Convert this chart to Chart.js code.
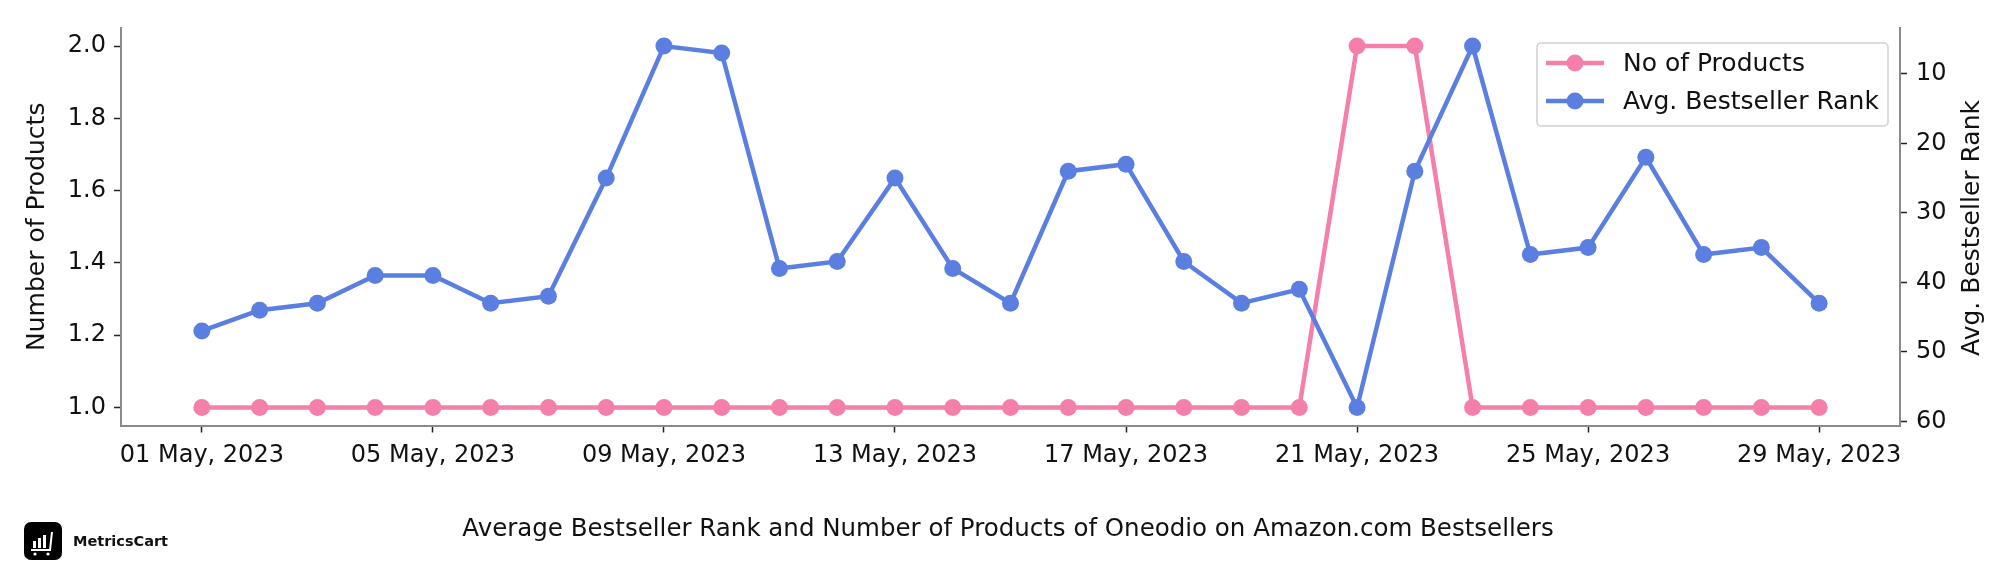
<!DOCTYPE html>
<html>
<head>
<meta charset="utf-8">
<script src="https://cdn.jsdelivr.net/npm/chart.js@4.4.1/dist/chart.umd.min.js"></script>
<style>
  html, body { margin: 0; padding: 0; background: #fff; }
  #wrap { width: 2016px; height: 576px; }
</style>
</head>
<body>
<div id="wrap"><canvas id="chart" width="2016" height="576"></canvas></div>
<script>
// dates shown on the x axis (one point per day)
const dates = [
    '01 May, 2023', '02 May, 2023', '03 May, 2023', '04 May, 2023', '05 May, 2023',
    '06 May, 2023', '07 May, 2023', '08 May, 2023', '09 May, 2023', '10 May, 2023',
    '11 May, 2023', '12 May, 2023', '13 May, 2023', '14 May, 2023', '15 May, 2023',
    '16 May, 2023', '17 May, 2023', '18 May, 2023', '19 May, 2023', '20 May, 2023',
    '21 May, 2023', '22 May, 2023', '23 May, 2023', '24 May, 2023', '25 May, 2023',
    '26 May, 2023', '27 May, 2023', '28 May, 2023', '29 May, 2023'
];
const noOfProducts = [1, 1, 1, 1, 1, 1, 1, 1, 1, 1, 1, 1, 1, 1, 1, 1, 1, 1, 1, 1, 2, 2, 1, 1, 1, 1, 1, 1, 1];
const avgRank = [47, 44, 43, 39, 39, 43, 42, 25, 6, 7, 38, 37, 25, 38, 43, 24, 23, 37, 43, 41, 58, 24, 6, 36, 35, 22, 36, 35, 43];

const xTickLabels = ['01 May, 2023', '05 May, 2023', '09 May, 2023', '13 May, 2023', '17 May, 2023', '21 May, 2023', '25 May, 2023', '29 May, 2023'];
const productTicks = [1.0, 1.2, 1.4, 1.6, 1.8, 2.0];
const rankTicks = [10, 20, 30, 40, 50, 60];

const pink = '#F57FAB';
const blue = '#5A7FE0';
const fontFamily = '"DejaVu Sans", Inter, sans-serif';
const tickSize = 24;
const labelSize = 25;

// legend box, right axis title and logo drawn by hand
const extrasPlugin = {
    id: 'extras',
    afterDraw(chart) {
        const ctx = chart.ctx;
        ctx.save();

        // legend
        const lx = 1537, ly = 43, lw = 351, lh = 83;
        ctx.fillStyle = 'rgba(255,255,255,0.85)';
        ctx.strokeStyle = '#d0d0d0';
        ctx.lineWidth = 1.5;
        ctx.beginPath();
        ctx.roundRect(lx, ly, lw, lh, 4);
        ctx.fill();
        ctx.stroke();
        const items = [
            { label: 'No of Products', color: pink, y: 63 },
            { label: 'Avg. Bestseller Rank', color: blue, y: 101 }
        ];
        items.forEach(it => {
            ctx.strokeStyle = it.color;
            ctx.lineWidth = 4.5;
            ctx.beginPath();
            ctx.moveTo(1546, it.y);
            ctx.lineTo(1604, it.y);
            ctx.stroke();
            ctx.fillStyle = it.color;
            ctx.beginPath();
            ctx.arc(1575, it.y, 8.5, 0, Math.PI * 2);
            ctx.fill();
            ctx.fillStyle = '#111';
            ctx.font = labelSize + 'px ' + fontFamily;
            ctx.textAlign = 'left';
            ctx.textBaseline = 'middle';
            ctx.fillText(it.label, 1623, it.y + 1);
        });

        // right axis title (reads bottom to top)
        ctx.translate(1972, 228);
        ctx.rotate(-Math.PI / 2);
        ctx.fillStyle = '#111';
        ctx.font = labelSize + 'px ' + fontFamily;
        ctx.textAlign = 'center';
        ctx.textBaseline = 'middle';
        ctx.fillText('Avg. Bestseller Rank', 0, 0);
        ctx.setTransform(1, 0, 0, 1, 0, 0);

        // MetricsCart logo
        ctx.fillStyle = '#000';
        ctx.beginPath();
        ctx.roundRect(24, 522, 38, 38, 7);
        ctx.fill();
        ctx.fillStyle = '#fff';
        ctx.fillRect(33, 541, 3, 7);
        ctx.fillRect(38, 538, 3, 10);
        ctx.fillRect(43, 535, 3, 13);
        ctx.strokeStyle = '#fff';
        ctx.lineWidth = 2;
        ctx.beginPath();
        ctx.moveTo(52, 532);
        ctx.lineTo(50, 550);
        ctx.lineTo(31, 550);
        ctx.stroke();
        ctx.beginPath();
        ctx.arc(35, 554, 1.6, 0, Math.PI * 2);
        ctx.arc(48, 554, 1.6, 0, Math.PI * 2);
        ctx.fill();
        ctx.fillStyle = '#111';
        ctx.font = 'bold 14.5px ' + fontFamily;
        ctx.textAlign = 'left';
        ctx.textBaseline = 'middle';
        ctx.fillText('MetricsCart', 73, 542);

        ctx.restore();
    }
};

const tickFont = { family: fontFamily, size: tickSize };

new Chart(document.getElementById('chart').getContext('2d'), {
    type: 'line',
    data: {
        datasets: [
            {
                label: 'No of Products',
                data: noOfProducts.map((v, i) => ({ x: i, y: v })),
                yAxisID: 'y',
                borderColor: pink,
                backgroundColor: pink,
                borderWidth: 4.5,
                pointRadius: 8.5,
                pointBorderWidth: 0,
                pointBackgroundColor: pink,
                tension: 0,
                order: 1
            },
            {
                label: 'Avg. Bestseller Rank',
                data: avgRank.map((v, i) => ({ x: i, y: v })),
                yAxisID: 'y1',
                borderColor: blue,
                backgroundColor: blue,
                borderWidth: 4.5,
                pointRadius: 8.5,
                pointBorderWidth: 0,
                pointBackgroundColor: blue,
                tension: 0,
                order: 0
            }
        ]
    },
    options: {
        responsive: false,
        animation: false,
        events: [],
        layout: { padding: { top: 28, left: 0, right: 0, bottom: 0 } },
        plugins: {
            legend: { display: false },
            tooltip: { enabled: false },
            title: {
                display: true,
                position: 'bottom',
                text: 'Average Bestseller Rank and Number of Products of Oneodio on Amazon.com Bestsellers',
                color: '#111',
                font: { family: fontFamily, size: 24.5, weight: 'normal', lineHeight: 1.2 },
                padding: { top: 0, bottom: 31.5 }
            }
        },
        scales: {
            x: {
                type: 'linear',
                min: -1.4,
                max: dates.length - 1 + 1.4,
                afterBuildTicks(scale) {
                    scale.ticks = xTickLabels.map(l => ({ value: dates.indexOf(l) }));
                },
                afterFit(scale) { scale.height = 89.6; },
                ticks: {
                    color: '#111',
                    font: tickFont,
                    padding: 9,
                    maxRotation: 0,
                    autoSkip: false,
                    callback: v => dates[v]
                },
                grid: { drawOnChartArea: false, drawTicks: true, tickLength: 7, tickColor: '#222', tickWidth: 1.5 },
                border: { display: true, color: '#8a8a8a', width: 2 }
            },
            y: {
                position: 'left',
                min: 0.95,
                max: 2.05,
                afterBuildTicks(scale) {
                    scale.ticks = productTicks.map(v => ({ value: v }));
                },
                afterFit(scale) { scale.width = 121; },
                title: {
                    display: true,
                    text: 'Number of Products',
                    color: '#111',
                    font: { family: fontFamily, size: labelSize },
                    padding: { top: 22, bottom: 0 }
                },
                ticks: {
                    color: '#111',
                    font: tickFont,
                    padding: 8,
                    callback: v => v.toFixed(1)
                },
                grid: { drawOnChartArea: false, drawTicks: true, tickLength: 7, tickColor: '#222', tickWidth: 1.5 },
                border: { display: true, color: '#8a8a8a', width: 2 }
            },
            y1: {
                position: 'right',
                reverse: true,
                min: 3.4,
                max: 60.6,
                afterBuildTicks(scale) {
                    scale.ticks = rankTicks.map(v => ({ value: v }));
                },
                afterFit(scale) { scale.width = 116; },
                ticks: {
                    color: '#111',
                    font: tickFont,
                    padding: 9,
                    callback: v => String(v)
                },
                grid: { drawOnChartArea: false, drawTicks: true, tickLength: 7, tickColor: '#222', tickWidth: 1.5 },
                border: { display: true, color: '#8a8a8a', width: 2 }
            }
        }
    },
    plugins: [extrasPlugin]
});
</script>
</body>
</html>
